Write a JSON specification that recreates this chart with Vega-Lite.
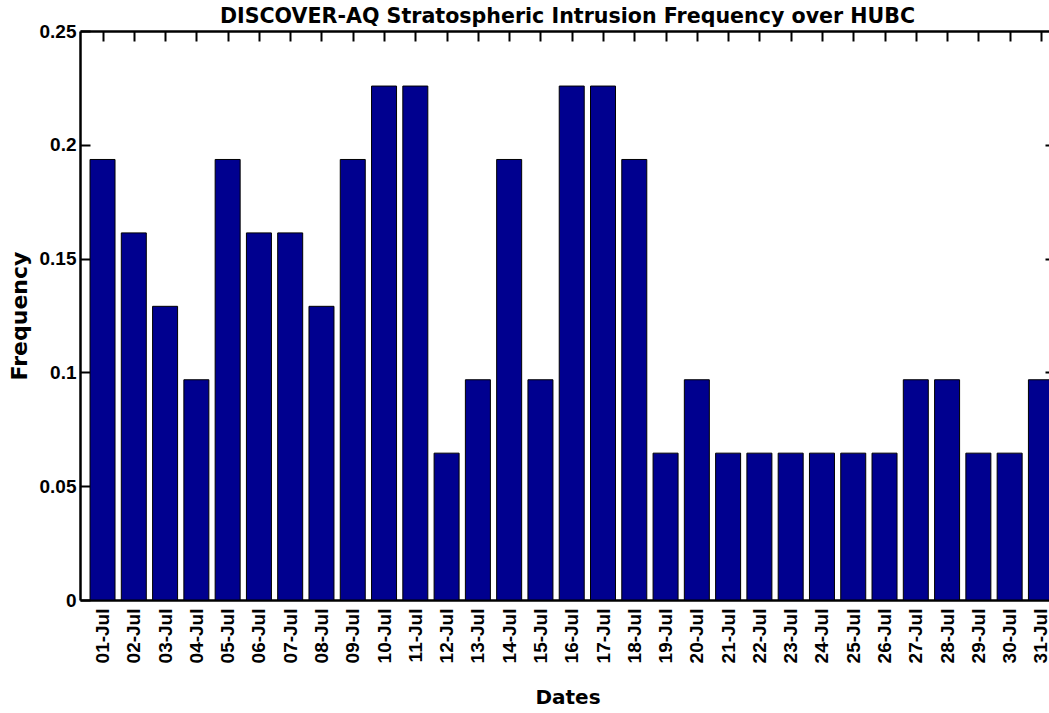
{
  "$schema": "https://vega.github.io/schema/vega-lite/v6.json",
  "autosize": "none",
  "padding": {"left": 80, "top": 31, "right": 0, "bottom": 113},
  "width": 975,
  "height": 569,
  "background": "white",
  "config": {
    "view": {"stroke": null},
    "font": "Liberation Sans",
    "axis": {
      "labelFont": "Liberation Sans",
      "labelFontWeight": "bold",
      "labelFontSize": 19,
      "labelColor": "black",
      "titleFont": "DejaVu Sans",
      "titleFontWeight": "bold",
      "titleFontSize": 20,
      "titleColor": "black",
      "domainColor": "black",
      "domainWidth": 2.5,
      "tickColor": "black",
      "tickWidth": 2,
      "grid": false
    }
  },
  "title": {
    "text": "DISCOVER-AQ Stratospheric Intrusion Frequency over HUBC",
    "font": "DejaVu Sans",
    "fontSize": 20.6,
    "fontWeight": "bold",
    "color": "black",
    "anchor": "middle",
    "offset": -6
  },
  "data": {
    "values": [
      {"day": 1, "freq": 0.19355},
      {"day": 2, "freq": 0.16129},
      {"day": 3, "freq": 0.12903},
      {"day": 4, "freq": 0.09677},
      {"day": 5, "freq": 0.19355},
      {"day": 6, "freq": 0.16129},
      {"day": 7, "freq": 0.16129},
      {"day": 8, "freq": 0.12903},
      {"day": 9, "freq": 0.19355},
      {"day": 10, "freq": 0.22581},
      {"day": 11, "freq": 0.22581},
      {"day": 12, "freq": 0.06452},
      {"day": 13, "freq": 0.09677},
      {"day": 14, "freq": 0.19355},
      {"day": 15, "freq": 0.09677},
      {"day": 16, "freq": 0.22581},
      {"day": 17, "freq": 0.22581},
      {"day": 18, "freq": 0.19355},
      {"day": 19, "freq": 0.06452},
      {"day": 20, "freq": 0.09677},
      {"day": 21, "freq": 0.06452},
      {"day": 22, "freq": 0.06452},
      {"day": 23, "freq": 0.06452},
      {"day": 24, "freq": 0.06452},
      {"day": 25, "freq": 0.06452},
      {"day": 26, "freq": 0.06452},
      {"day": 27, "freq": 0.09677},
      {"day": 28, "freq": 0.09677},
      {"day": 29, "freq": 0.06452},
      {"day": 30, "freq": 0.06452},
      {"day": 31, "freq": 0.09677}
    ]
  },
  "layer": [
    {
      "mark": {"type": "bar", "size": 25, "fill": "#00008F", "stroke": "black", "strokeWidth": 1},
      "encoding": {
        "x": {
          "field": "day",
          "type": "quantitative",
          "scale": {"domain": [0.28, 31.45], "nice": false, "zero": false, "padding": 0},
          "axis": {
            "orient": "bottom",
            "title": "Dates",
            "values": [1,2,3,4,5,6,7,8,9,10,11,12,13,14,15,16,17,18,19,20,21,22,23,24,25,26,27,28,29,30,31],
            "labelExpr": "(datum.value < 10 ? '0' : '') + datum.value + '-Jul'",
            "labelAngle": 270,
            "labelAlign": "right",
            "labelBaseline": "middle",
            "labelPadding": 8,
            "labelOverlap": false,
            "ticks": false,
            "titlePadding": 25
          }
        },
        "y": {
          "field": "freq",
          "type": "quantitative",
          "scale": {"domain": [0, 0.25], "nice": false, "zero": true, "padding": 0},
          "axis": {
            "orient": "left",
            "title": "Frequency",
            "titleFontSize": 22,
            "values": [0, 0.05, 0.1, 0.15, 0.2, 0.25],
            "format": "~g",
            "tickSize": -10,
            "labelPadding": 14,
            "titlePadding": 8
          }
        }
      }
    },
    {
      "mark": {"type": "point", "opacity": 0},
      "encoding": {
        "x": {
          "field": "day",
          "type": "quantitative",
          "scale": {"domain": [0.28, 31.45], "nice": false, "zero": false, "padding": 0},
          "axis": {
            "orient": "top",
            "title": null,
            "values": [1,2,3,4,5,6,7,8,9,10,11,12,13,14,15,16,17,18,19,20,21,22,23,24,25,26,27,28,29,30,31],
            "labels": false,
            "tickSize": -10,
            "zindex": 1
          }
        },
        "y": {
          "field": "freq",
          "type": "quantitative",
          "scale": {"domain": [0, 0.25], "nice": false, "zero": true, "padding": 0},
          "axis": {
            "orient": "right",
            "title": null,
            "values": [0.05, 0.1, 0.15, 0.2],
            "labels": false,
            "tickSize": -10
          }
        }
      }
    }
  ],
  "resolve": {"axis": {"x": "independent", "y": "independent"}}
}
